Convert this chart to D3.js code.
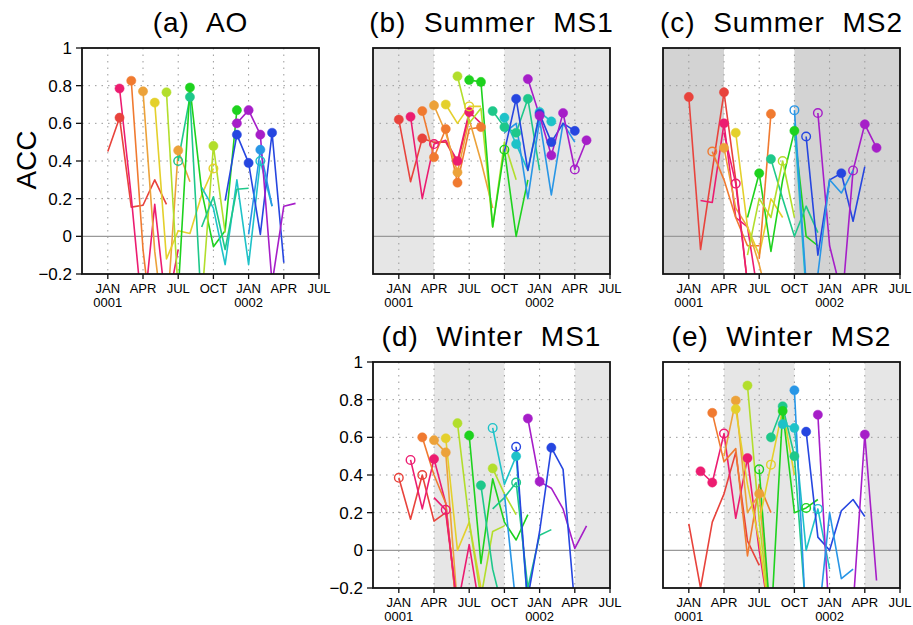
<!DOCTYPE html>
<html lang="en">
<head>
<meta charset="UTF-8">
<title>ACC panels</title>
<script src="https://d3js.org/d3.v7.min.js"></script>
<style>
  body { margin: 0; background: #fff; }
  svg { display: block; font-family: "Liberation Sans", Arial, Helvetica, sans-serif; }
  .title { font-size: 28px; letter-spacing: 1px; white-space: pre; }
  .tick-y { font-size: 17px; }
  .tick-x { font-size: 13px; }
</style>
</head>
<body>
<svg id="chart" width="913" height="625"></svg>
<script>
// --- data ---
const tickMonths = [0, 3, 6, 9, 12, 15, 18];
const monthLabels = ["JAN", "APR", "JUL", "OCT", "JAN", "APR", "JUL"];
const yearLabels = ["0001", "", "", "", "0002", "", ""];
const yTicks = [-0.2, 0, 0.2, 0.4, 0.6, 0.8, 1];
const yTickLabels = ["\u22120.2", "0", "0.2", "0.4", "0.6", "0.8", "1"];

// colour per initial month (Jan..Dec)
const palette = ["#e8433c", "#ec1c70", "#f07a30", "#eca23a", "#e4d02c", "#b2de2c",
                 "#1ed21e", "#1ec88a", "#1ec2c8", "#2896e6", "#2646e0", "#a61ec8"];

// points: [month from Jan 0001, ACC, marker] marker 1 = filled, 2 = open
const aoSeries = [
  {k: 0, p: [[0, .45], [1, .63, 1], [2, .155], [3, .165], [4, .30], [5, .17]]},
  {k: 1, p: [[1, .785, 1], [2, .21], [3, -.45], [4, .17], [5, -.40], [6, -.07]]},
  {k: 2, p: [[2, .826, 1], [3, -.07], [4, -.6]]},
  {k: 3, p: [[3, .77, 1], [4, -.08], [5, -.6]]},
  {k: 3, p: [[5, -.45], [6, .456, 1], [7, .29]]},
  {k: 4, p: [[4, .71, 1], [5, -.12], [6, .03], [7, .015], [8, .22], [9, .36, 2]]},
  {k: 5, p: [[5, .765, 1], [6, -.3]]},
  {k: 7, p: [[6, .40, 2], [7, .74, 1], [8, -.4]]},
  {k: 6, p: [[6, -.3], [7, .79, 1], [8, .24], [9, -.055], [10, .03], [11, .67, 1]]},
  {k: 5, p: [[8, -.35], [9, .48, 1], [10, .02]]},
  {k: 8, p: [[8, .26], [9, .15], [10, -.15], [11, .30], [12, -.15], [13, .40, 2], [14, .16]]},
  {k: 7, p: [[8, .05], [9, .21], [10, -.07], [11, .25], [12, .255]]},
  {k: 10, p: [[10, .19], [11, .54, 1], [12, .39, 1], [13, .01], [14, .55, 1], [15, -.14]]},
  {k: 9, p: [[12, .01], [13, .46, 1], [14, .16]]},
  {k: 11, p: [[11, .60, 1], [12, .67, 1], [13, .54, 1], [14, -.25], [15, .16], [16, .175]]}
];

const summerMS1 = [
  {k: 0, p: [[0, .62, 1], [1, .29], [2, .52, 1], [3, .50], [4, .50], [5, .39], [6, .64]]},
  {k: 1, p: [[1, .635, 1], [2, .20], [3, .49, 2], [4, .51], [5, .40, 1], [6, .66, 1], [7, .60]]},
  {k: 2, p: [[2, .665, 1], [3, .42, 1], [4, .57, 1], [5, .285, 1], [6, .57], [7, .58, 1]]},
  {k: 3, p: [[3, .695, 1], [4, .55], [5, .34, 1], [6, .62], [7, .40], [8, .15]]},
  {k: 4, p: [[4, .70, 1], [5, .60], [6, .69, 2], [7, .69]]},
  {k: 5, p: [[5, .85, 1], [6, .60], [7, .68], [8, .05], [9, .50], [10, .30]]},
  {k: 6, p: [[6, .83, 1], [7, .82, 1], [8, .05], [9, .46, 2], [10, .00], [11, .30]]},
  {k: 7, p: [[8, .665, 1], [9, .58, 1], [10, .55, 1], [11, .73, 1], [12, .35]]},
  {k: 8, p: [[9, .63, 1], [10, .49, 1], [11, .35], [12, .66, 1], [13, .61, 1]]},
  {k: 9, p: [[9, .55], [10, .60], [11, .20], [12, .62], [13, .22], [14, .60], [15, .50]]},
  {k: 10, p: [[9, .45], [10, .73, 1], [11, .35], [12, .65, 1], [13, .50, 1], [14, .60], [15, .56, 1]]},
  {k: 11, p: [[11, .835, 1], [12, .64, 1], [13, .43, 1], [14, .655, 1], [15, .355, 2], [16, .51, 1]]}
];

const summerMS2 = [
  {k: 0, p: [[0, .74, 1], [1, -.07], [2, .35], [3, .765, 1], [4, .30], [5, -.25]]},
  {k: 1, p: [[1, .19], [2, .18], [3, .60, 1], [4, .10], [5, .05], [6, -.35]]},
  {k: 2, p: [[2, .45, 2], [3, .30], [4, .10], [5, -.05], [6, -.05]]},
  {k: 3, p: [[3, .47, 1], [4, .15], [5, .05], [6, -.15], [7, -.4]]},
  {k: 1, p: [[3, .55], [4, .28, 2], [5, -.25]]},
  {k: 4, p: [[4, .55, 1], [5, .05], [6, -.1], [7, .20], [8, .10]]},
  {k: 6, p: [[5, .10], [6, .335, 1], [7, -.08], [8, .30], [9, .56, 1], [10, .0], [11, -.05]]},
  {k: 2, p: [[6, -.12], [7, .65, 1]]},
  {k: 7, p: [[7, .41, 1], [8, .20], [9, .0], [10, .16], [11, .02]]},
  {k: 5, p: [[5, -.1], [6, .20], [7, .10], [8, .40, 2], [9, .10]]},
  {k: 8, p: [[9, .60], [10, -.3]]},
  {k: 9, p: [[9, .67, 2], [10, -.25]]},
  {k: 10, p: [[10, .53, 2], [11, -.10], [12, .30], [13, .335, 1], [14, .08], [15, .37]]},
  {k: 11, p: [[11, .655, 2], [12, -.05], [13, -.3]]},
  {k: 11, p: [[13, -.4], [14, .35, 2], [15, .595, 1], [16, .47, 1]]},
  {k: 9, p: [[11, -.2], [12, .30], [13, .23], [14, .35]]}
];

const winterMS1 = [
  {k: 0, p: [[0, .385, 2], [1, .165], [2, .40, 2], [3, .155], [4, .20], [5, -.3]]},
  {k: 1, p: [[1, .48, 2], [2, .22], [3, .485, 1], [4, .25], [5, -.35]]},
  {k: 2, p: [[2, .60, 1], [3, .40], [4, .25], [5, -.35]]},
  {k: 3, p: [[3, .585, 1], [4, .52, 1], [5, -.3]]},
  {k: 4, p: [[4, .595, 1], [5, .0], [6, .15], [7, -.2]]},
  {k: 1, p: [[3, .28], [4, .215, 2], [5, -.30], [6, .03], [7, -.35]]},
  {k: 5, p: [[5, .675, 1], [6, .15], [7, -.25], [8, .10], [9, .13]]},
  {k: 6, p: [[6, .61, 1], [7, -.07], [8, .38], [9, .15], [10, .055], [11, .19]]},
  {k: 7, p: [[7, .345, 1], [8, -.1], [9, -.35]]},
  {k: 5, p: [[8, .435, 1], [9, .30], [10, .19]]},
  {k: 8, p: [[8, .65, 2], [9, .35], [10, .50, 1], [11, -.3]]},
  {k: 7, p: [[8, .22], [9, .28], [10, .36, 2], [11, -.2], [12, .08], [13, .11]]},
  {k: 10, p: [[10, .55, 2], [11, -.3]]},
  {k: 11, p: [[11, .70, 1], [12, .365, 1], [13, .33], [14, .22], [15, .01], [16, .13]]},
  {k: 10, p: [[11, -.25], [12, .10], [13, .545, 1], [14, .43], [15, -.3]]},
  {k: 9, p: [[9, .30], [10, -.3]]}
];

const winterMS2 = [
  {k: 0, p: [[0, .14], [1, -.2], [2, .15], [3, .30], [4, .52], [5, .05], [6, -.08]]},
  {k: 1, p: [[1, .42, 1], [2, .36, 1], [3, .62, 2], [4, .17], [5, .49, 1], [6, .0], [7, -.4]]},
  {k: 2, p: [[2, .73, 1], [3, .47], [4, .54], [5, -.03], [6, .35], [7, .20]]},
  {k: 3, p: [[3, .50], [4, .795, 1], [5, .20], [6, .30, 1], [7, -.4]]},
  {k: 4, p: [[4, .75, 1], [5, .35], [6, .05], [7, -.4]]},
  {k: 5, p: [[5, .875, 1], [6, .16], [7, -.4]]},
  {k: 6, p: [[6, .43, 2], [7, -.4]]},
  {k: 4, p: [[6, .15], [7, .455, 2], [8, .75], [9, .40]]},
  {k: 7, p: [[7, .60, 1], [8, .765, 1], [9, .50, 1], [10, -.35]]},
  {k: 6, p: [[7, -.4], [8, .74, 1], [9, .20], [10, .225, 2], [11, .27]]},
  {k: 8, p: [[8, .67, 1], [9, .65, 1], [10, .0], [11, .22, 2], [12, -.1]]},
  {k: 9, p: [[9, .85, 1], [10, -.4]]},
  {k: 10, p: [[10, .63, 1], [11, .07], [12, .0], [13, .21], [14, .27], [15, .18]]},
  {k: 11, p: [[11, .72, 1], [12, -.4]]},
  {k: 11, p: [[13, -.4], [14, -.3], [15, .615, 1], [16, -.16]]},
  {k: 9, p: [[11, -.4], [12, .20], [13, -.15], [14, -.1]]}
];

// shaded month ranges per panel
const shadeSummer = [[-2.2, 3], [9, 18]];
const shadeWinter = [[3, 9], [15, 18]];

const panels = [
  {id: "a", title: "(a)  AO",          x: 82,  y: 48,  series: aoSeries,  shade: [],           fill: null,      yAxis: true},
  {id: "b", title: "(b)  Summer  MS1", x: 373, y: 48,  series: summerMS1, shade: shadeSummer, fill: "#e6e6e6", yAxis: false},
  {id: "c", title: "(c)  Summer  MS2", x: 663, y: 48,  series: summerMS2, shade: shadeSummer, fill: "#d3d3d3", yAxis: false},
  {id: "d", title: "(d)  Winter  MS1", x: 373, y: 362, series: winterMS1, shade: shadeWinter, fill: "#e6e6e6", yAxis: true},
  {id: "e", title: "(e)  Winter  MS2", x: 663, y: 362, series: winterMS2, shade: shadeWinter, fill: "#e6e6e6", yAxis: false}
];

// --- drawing ---
const W = 237, H = 226;
const svg = d3.select("#chart");
svg.append("rect").attr("width", 913).attr("height", 625).attr("fill", "#fff");

const x = d3.scaleLinear().domain([-2.2, 18]).range([0, W]);
const y = d3.scaleLinear().domain([-0.2, 1]).range([H, 0]);

panels.forEach(pn => {
  const g = svg.append("g").attr("transform", `translate(${pn.x},${pn.y})`);

  svg.append("defs").append("clipPath").attr("id", "clip-" + pn.id)
    .append("rect").attr("width", W).attr("height", H);

  // shading
  g.selectAll("rect.shade").data(pn.shade).enter().append("rect")
    .attr("class", "shade")
    .attr("x", d => x(d[0])).attr("width", d => x(d[1]) - x(d[0]))
    .attr("y", 0).attr("height", H)
    .attr("fill", pn.fill);

  // grid
  g.selectAll("line.vgrid").data(tickMonths.filter(m => m < 18)).enter().append("line")
    .attr("x1", d => x(d)).attr("x2", d => x(d)).attr("y1", 0).attr("y2", H)
    .attr("stroke", "#9a9a9a").attr("stroke-width", 1).attr("stroke-dasharray", "1.5,5");
  g.selectAll("line.hgrid").data([0.2, 0.4, 0.6, 0.8]).enter().append("line")
    .attr("x1", 0).attr("x2", W).attr("y1", d => y(d)).attr("y2", d => y(d))
    .attr("stroke", "#9a9a9a").attr("stroke-width", 1).attr("stroke-dasharray", "1.5,5");
  g.append("line").attr("x1", 0).attr("x2", W).attr("y1", y(0)).attr("y2", y(0))
    .attr("stroke", "#999").attr("stroke-width", 1.3);

  // series
  const plot = g.append("g").attr("clip-path", `url(#clip-${pn.id})`);
  const line = d3.line().x(d => x(d[0])).y(d => y(d[1]));
  plot.selectAll("path.series").data(pn.series).enter().append("path")
    .attr("d", d => line(d.p))
    .attr("fill", "none")
    .attr("stroke", d => palette[d.k])
    .attr("stroke-width", 1.6)
    .attr("stroke-linejoin", "round");

  const marks = [];
  pn.series.forEach(s => s.p.forEach(pt => { if (pt[2]) marks.push({k: s.k, m: pt[0], v: pt[1], t: pt[2]}); }));
  plot.selectAll("circle.mark").data(marks).enter().append("circle")
    .attr("cx", d => x(d.m)).attr("cy", d => y(d.v))
    .attr("r", d => d.t === 1 ? 4.6 : 4.3)
    .attr("fill", d => d.t === 1 ? palette[d.k] : "none")
    .attr("stroke", d => palette[d.k])
    .attr("stroke-width", d => d.t === 1 ? 0.5 : 1.4);

  // frame
  g.append("rect").attr("width", W).attr("height", H)
    .attr("fill", "none").attr("stroke", "#111").attr("stroke-width", 1.8);

  // x axis ticks and labels
  g.selectAll("line.xt").data(tickMonths).enter().append("line")
    .attr("x1", d => x(d)).attr("x2", d => x(d)).attr("y1", H).attr("y2", H + 5)
    .attr("stroke", "#111").attr("stroke-width", 1.3);
  const xl = g.selectAll("text.xl").data(tickMonths).enter().append("text")
    .attr("class", "tick-x").attr("text-anchor", "middle")
    .attr("x", d => x(d)).attr("y", H + 19);
  xl.append("tspan").text((d, i) => monthLabels[i]);
  xl.append("tspan").attr("x", d => x(d)).attr("dy", 14).text((d, i) => yearLabels[i]);

  // y axis
  if (pn.yAxis) {
    g.selectAll("line.yt").data(yTicks).enter().append("line")
      .attr("x1", -6).attr("x2", 0).attr("y1", d => y(d)).attr("y2", d => y(d))
      .attr("stroke", "#111").attr("stroke-width", 1.3);
    g.selectAll("text.yl").data(yTicks).enter().append("text")
      .attr("class", "tick-y").attr("text-anchor", "end")
      .attr("x", -10).attr("y", d => y(d) + 6)
      .text((d, i) => yTickLabels[i]);
  }

  // title
  g.append("text").attr("class", "title").attr("text-anchor", "middle")
    .attr("x", W / 2).attr("y", -16).text(pn.title);
});

// y label
svg.append("text")
  .attr("transform", "translate(36,160) rotate(-90)")
  .attr("text-anchor", "middle")
  .style("font-size", "28px")
  .text("ACC");
</script>
</body>
</html>
